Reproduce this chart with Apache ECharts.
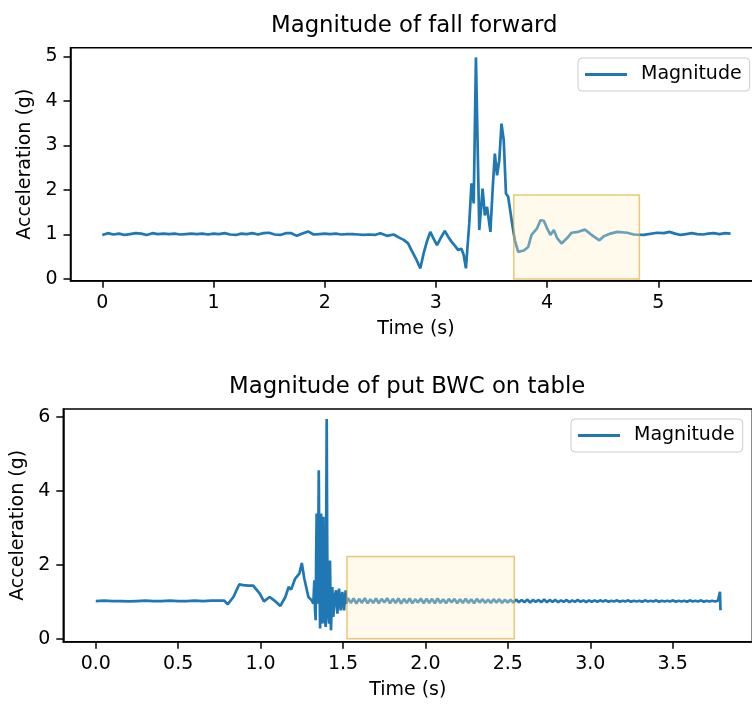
<!DOCTYPE html>
<html>
<head>
<meta charset="utf-8">
<title>Magnitude</title>
<script src="https://cdn.jsdelivr.net/npm/echarts@6/dist/echarts.min.js"></script>
<style>html,body{margin:0;padding:0;background:#fff;}</style>
</head>
<body>
<div id="main" style="width:752px;height:704px;"></div>
<script>
// fall forward: time (s) / magnitude (g)
var fallTime = [
  0.00,0.05,0.10,0.15,0.20,0.25,0.30,0.35,0.40,0.45,
  0.50,0.55,0.60,0.65,0.70,0.75,0.80,0.85,0.90,0.95,
  1.00,1.05,1.10,1.15,1.20,1.25,1.30,1.35,1.40,1.45,
  1.50,1.55,1.60,1.65,1.70,1.75,1.80,1.85,1.90,1.95,
  2.00,2.05,2.10,2.15,2.20,2.25,2.30,2.35,2.40,2.45,
  2.50,2.56,2.62,2.67,2.71,2.75,2.78,2.82,2.86,2.89,
  2.92,2.95,2.98,3.01,3.05,3.08,3.11,3.14,3.17,3.20,
  3.23,3.25,3.27,3.30,3.32,3.34,3.36,3.39,3.42,3.44,
  3.46,3.49,3.51,3.53,3.55,3.57,3.59,3.61,3.63,3.65,
  3.69,3.71,3.74,3.79,3.83,3.86,3.91,3.94,3.97,4.00,
  4.03,4.06,4.09,4.13,4.18,4.22,4.28,4.34,4.39,4.47,
  4.51,4.57,4.63,4.72,4.78,4.87,4.99,5.05,5.10,5.15,
  5.20,5.25,5.30,5.35,5.40,5.45,5.50,5.55,5.60,5.65
];
var fallMag = [
  0.99,1.03,1.00,1.02,0.99,1.01,1.03,1.02,0.99,1.03,
  1.01,1.02,1.01,1.02,1.00,1.01,1.02,1.01,1.02,1.00,
  1.02,1.01,1.03,1.00,0.99,1.02,1.01,1.03,1.00,1.03,
  1.04,1.00,0.99,1.03,1.03,0.97,1.02,1.07,1.00,1.01,
  1.02,1.01,1.02,1.00,1.01,1.01,1.00,0.99,1.00,0.99,
  1.03,0.97,1.00,0.93,0.88,0.80,0.65,0.46,0.24,0.58,
  0.85,1.06,0.90,0.76,0.95,1.08,0.95,0.84,0.75,0.65,
  0.68,0.54,0.24,1.25,2.15,1.70,4.98,1.10,2.03,1.43,
  1.62,1.06,2.00,2.82,2.33,2.67,3.49,3.12,1.92,1.85,
  1.17,0.87,0.61,0.64,0.72,0.99,1.14,1.32,1.31,1.14,
  0.99,1.10,0.92,0.80,0.92,1.04,1.06,1.11,1.01,0.87,
  0.96,1.02,1.06,1.04,1.00,0.99,1.04,1.03,1.06,1.02,
  0.99,1.01,1.03,1.01,1.00,1.02,1.03,1.01,1.03,1.02
];
// highlighted window [t0, g0, t1, g1]
var fallBox = [3.70, 0, 4.83, 1.89];

// put BWC on table
var putTime = [
  0.00,0.05,0.10,0.15,0.20,0.25,0.30,0.35,0.40,0.45,
  0.50,0.55,0.60,0.65,0.70,0.75,0.78,
  0.80,0.835,0.87,0.895,0.925,0.955,0.995,1.02,1.055,1.09,
  1.12,1.15,1.17,1.185,1.21,1.235,1.25,1.265,1.29,1.31,
  1.320,1.326,1.330,1.334,1.337,1.340,1.343,1.347,1.350,1.353,
  1.357,1.361,1.364,1.367,1.371,1.375,1.378,1.381,1.384,1.387,
  1.391,1.395,1.398,1.401,1.404,1.407,1.411,1.415,1.418,1.421,
  1.424,1.427,1.431,1.435,1.438,1.441,1.446,1.452,1.458,1.462,
  1.466,1.471,1.476,1.481,1.486,1.491,1.496,1.501,1.506,1.511,
  1.516,1.520
];
var putMag = [
  1.02,1.03,1.02,1.02,1.01,1.02,1.03,1.02,1.02,1.03,
  1.02,1.02,1.03,1.02,1.03,1.03,1.03,
  0.93,1.13,1.47,1.45,1.44,1.44,1.22,1.01,1.13,1.01,
  0.89,1.13,1.40,1.33,1.63,1.76,2.05,1.63,1.13,1.04,
  0.95,1.58,0.80,0.50,2.20,3.39,1.20,0.95,2.80,4.56,
  1.50,0.28,1.80,3.39,1.20,0.41,2.00,3.30,1.60,0.77,
  0.50,0.32,3.00,5.95,2.60,0.77,0.60,0.41,1.30,2.12,
  1.10,0.23,0.80,1.40,1.00,0.59,0.90,1.20,1.31,0.90,
  0.68,1.10,1.36,1.00,0.77,1.10,1.27,1.00,0.77,1.05,
  1.31,0.95
];
// evenly sampled settling part
var putTailStart = 1.53;
var putTailStep = 0.017;
var putTailMag = [
  1.10,0.97,1.09,0.95,1.08,0.97,1.10,0.96,1.07,0.97,1.09,0.96,1.08,0.98,1.10,0.96,1.08,0.97,1.09,0.95,
  1.08,0.97,1.09,0.96,1.07,0.98,1.09,0.96,1.08,0.97,1.08,0.96,1.09,0.97,1.07,0.96,1.08,0.98,1.08,0.96,
  1.07,0.97,1.08,0.97,1.07,0.96,1.08,0.98,1.07,0.97,1.06,0.97,1.07,0.98,1.07,0.97,1.06,0.98,1.06,0.98,
  1.06,0.99,1.05,0.99,1.06,0.98,1.05,1.00,1.05,0.99,1.06,0.99,1.05,1.00,1.05,0.99,1.04,1.00,1.05,0.99,
  1.04,1.00,1.05,1.00,1.04,0.99,1.04,1.00,1.04,1.00,1.04,1.01,1.04,1.00,1.03,1.01,1.04,1.00,1.03,1.01,
  1.04,1.00,1.03,1.01,1.03,1.00,1.04,1.01,1.03,1.01,1.04,1.00,1.03,1.01,1.03,1.01,1.04,1.00,1.03,1.01,
  1.03,1.00,1.04,1.01,1.03,1.01,1.04,1.00,1.03,1.01,1.03,1.01,1.03
];
var putEndTime = [3.785, 3.787, 3.790];
var putEndMag = [1.02, 1.27, 0.77];
var putBox = [1.524, 0, 2.539, 2.23];

// tick labels
var fallXTicks = [0, 1, 2, 3, 4, 5];
var fallYTicks = [0, 1, 2, 3, 4, 5];
var putXTicks = [0, 0.5, 1.0, 1.5, 2.0, 2.5, 3.0, 3.5];
var putYTicks = [0, 2, 4, 6];

var FONT = 'DejaVu Sans';

function pairs(ts, vs) {
  return ts.map(function (t, i) { return [t, vs[i]]; });
}
var fallData = pairs(fallTime, fallMag);
var putData = pairs(putTime, putMag)
  .concat(putTailMag.map(function (v, i) {
    return [+(putTailStart + i * putTailStep).toFixed(3), v];
  }))
  .concat(pairs(putEndTime, putEndMag));

function boxItem(params, api) {
  var a = api.coord([api.value(0), api.value(3)]);
  var b = api.coord([api.value(2), api.value(1)]);
  return {
    type: 'rect',
    shape: { x: a[0], y: a[1], width: b[0] - a[0], height: b[1] - a[1] },
    style: { fill: 'rgba(255,240,200,0.34)', stroke: 'rgba(218,165,32,0.6)', lineWidth: 1.5 }
  };
}

function axis(idx, min, max, ticks, name, gap, fmt) {
  return {
    type: 'value', gridIndex: idx, min: min, max: max,
    name: name, nameLocation: 'middle', nameGap: gap,
    nameTextStyle: { fontSize: 19, color: '#000', fontFamily: FONT },
    axisLine: { onZero: false, lineStyle: { color: '#000', width: 1.5 } },
    axisTick: { customValues: ticks, length: 7, lineStyle: { color: '#000', width: 1.5 } },
    axisLabel: { customValues: ticks, fontSize: 19, color: '#000', fontFamily: FONT, margin: 13,
      formatter: fmt || function (v) { return String(v); } },
    splitLine: { show: false }
  };
}

function legend(left, top) {
  return {
    left: left, top: top, data: ['Magnitude'], icon: 'rect',
    itemWidth: 42, itemHeight: 3, padding: [7, 8, 7, 7],
    backgroundColor: 'rgba(255,255,255,0.8)', borderColor: '#cccccc', borderWidth: 1, borderRadius: 4,
    selectedMode: false,
    textStyle: { fontSize: 19, color: '#000', fontFamily: FONT, padding: [0, 0, 0, 9] }
  };
}

var option = {
  animation: false,
  backgroundColor: '#fff',
  title: [
    { text: 'Magnitude of fall forward', left: 271, top: 15, padding: 0,
      textStyle: { fontSize: 22.8, fontWeight: 'normal', color: '#000', fontFamily: FONT } },
    { text: 'Magnitude of put BWC on table', left: 229, top: 376, padding: 0,
      textStyle: { fontSize: 22.8, fontWeight: 'normal', color: '#000', fontFamily: FONT } }
  ],
  legend: [legend(578, 58), legend(571, 419)],
  grid: [
    { left: 70.5, top: 47.7, width: 691, height: 233, outerBoundsMode: 'none',
      show: true, borderColor: '#000', borderWidth: 1.5, backgroundColor: 'transparent' },
    { left: 63.3, top: 409, width: 689, height: 232.7, outerBoundsMode: 'none',
      show: true, borderColor: '#000', borderWidth: 1.5, backgroundColor: 'transparent' }
  ],
  xAxis: [
    axis(0, -0.286, 5.928, fallXTicks, 'Time (s)', 39),
    axis(1, -0.197, 3.983, putXTicks, 'Time (s)', 39, function (v) { return v.toFixed(1); })
  ],
  yAxis: [
    axis(0, -0.038, 5.198, fallYTicks, 'Acceleration (g)', 36),
    axis(1, -0.08, 6.22, putYTicks, 'Acceleration (g)', 36)
  ],
  series: [
    { name: 'Magnitude', type: 'line', xAxisIndex: 0, yAxisIndex: 0, data: fallData,
      showSymbol: false, symbol: 'none', z: 2, lineStyle: { color: '#1f77b4', width: 2.7 },
      itemStyle: { color: '#1f77b4' }, emphasis: { disabled: true } },
    { name: 'Magnitude', type: 'line', xAxisIndex: 1, yAxisIndex: 1, data: putData,
      showSymbol: false, symbol: 'none', z: 2, lineStyle: { color: '#1f77b4', width: 2.7 },
      itemStyle: { color: '#1f77b4' }, emphasis: { disabled: true } },
    { name: 'window1', type: 'custom', xAxisIndex: 0, yAxisIndex: 0, z: 3,
      renderItem: boxItem, data: [fallBox], encode: { x: [0, 2], y: [1, 3] } },
    { name: 'window2', type: 'custom', xAxisIndex: 1, yAxisIndex: 1, z: 3,
      renderItem: boxItem, data: [putBox], encode: { x: [0, 2], y: [1, 3] } }
  ]
};
var myChart = echarts.init(document.getElementById('main'));
myChart.setOption(option);
</script>
</body>
</html>
